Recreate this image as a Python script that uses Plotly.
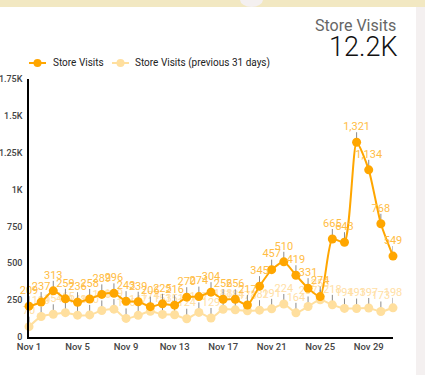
import pandas as pd
import plotly.graph_objects as go

# Daily store visits, Nov 1 - Dec 1, and the matching previous 31-day window
dates = pd.date_range("2023-11-01", periods=31, freq="D")
store_visits = [209, 237, 313, 259, 236, 258, 289, 296, 243, 239, 206, 225, 216, 270,
                274, 304, 256, 256, 217, 345, 457, 510, 419, 331, 274, 665, 643, 1321,
                1134, 768, 549]
previous_visits = [70, 139, 154, 165, 148, 150, 180, 189, 126, 147, 174, 153, 151, 124,
                   167, 129, 188, 184, 178, 182, 191, 224, 164, 207, 253, 218, 194, 193,
                   197, 173, 198]
y_tick_vals = [0, 250, 500, 750, 1000, 1250, 1500, 1750]
y_tick_text = ["0", "250", "500", "750", "1K", "1.25K", "1.5K", "1.75K"]
series_names = ["Store Visits", "Store Visits (previous 31 days)"]
total_label = "12.2K"

MAIN = "#ffa600"
PREV = "#ffdf9e"
MAIN_TXT = "#ffbd45"
PREV_TXT = "#ffe0a6"
LEADER = "#8a8a8a"
FONT = "Roboto"

# geometry (pixels) of the plotting area
W, H = 425, 375
ML, MR, MT, MB = 29, 32, 79, 38
Y_MAX = 1750
pw = W - ML - MR
ph = H - MT - MB
px_per_unit = ph / Y_MAX
lead = 10 / px_per_unit      # leader line length above each point
text_off = 15 / px_per_unit  # label centre above each point


def px_x(x):
    return (x - ML) / pw


def px_y(y):
    return (H - MB - y) / ph


def fmt(v):
    return f"{v:,}"


def series(values, color, txt_color, name):
    lx, ly = [], []
    for d, v in zip(dates, values):
        lx += [d, d, None]
        ly += [v, v + lead, None]
    leaders = go.Scatter(
        x=lx, y=ly, mode="lines", line=dict(color=LEADER, width=1),
        showlegend=False, hoverinfo="skip", cliponaxis=False,
    )
    pts = go.Scatter(
        x=dates, y=values, name=name, mode="lines+markers",
        line=dict(color=color, width=2, shape="spline", smoothing=0.6),
        marker=dict(color=color, size=9),
        showlegend=False, cliponaxis=False, hoverinfo="x+y",
    )
    labels = go.Scatter(
        x=dates, y=[v + text_off for v in values], mode="text",
        text=[fmt(v) for v in values], textposition="middle center",
        textfont=dict(family=FONT, size=11, color=txt_color),
        showlegend=False, hoverinfo="skip", cliponaxis=False,
    )
    return [leaders, pts, labels]


fig = go.Figure()
for tr in series(previous_visits, PREV, PREV_TXT, series_names[1]):
    fig.add_trace(tr)
for tr in series(store_visits, MAIN, MAIN_TXT, series_names[0]):
    fig.add_trace(tr)

# page background: beige band on top, grey strip on the right
fig.add_shape(type="rect", xref="paper", yref="paper", layer="below",
              x0=px_x(0), x1=px_x(W), y0=px_y(7), y1=px_y(0),
              fillcolor="#f2e8c2", line_width=0)
fig.add_shape(type="rect", xref="paper", yref="paper", layer="below",
              x0=px_x(416), x1=px_x(W), y0=px_y(H), y1=px_y(7),
              fillcolor="#f4f0f0", line_width=0)
fig.add_shape(type="circle", xref="paper", yref="paper", layer="below",
              x0=px_x(240), x1=px_x(263), y0=px_y(7), y1=px_y(-8),
              fillcolor="#f4f0f0", line_width=0)

# legend drawn as line + dot + label
legend_items = [(29, 51, MAIN, series_names[0]), (112, 133, PREV, series_names[1])]
LEG_Y = 63
for x0, tx, col, label in legend_items:
    fig.add_shape(type="line", xref="paper", yref="paper",
                  x0=px_x(x0), x1=px_x(x0 + 17), y0=px_y(LEG_Y), y1=px_y(LEG_Y),
                  line=dict(color=col, width=2))
    cx = x0 + 8.5
    fig.add_shape(type="circle", xref="paper", yref="paper",
                  x0=px_x(cx - 4), x1=px_x(cx + 4), y0=px_y(LEG_Y + 4), y1=px_y(LEG_Y - 4),
                  fillcolor=col, line_width=0)
    fig.add_annotation(text=label, xref="paper", yref="paper",
                       x=px_x(tx), y=px_y(LEG_Y), xanchor="left", yanchor="middle",
                       showarrow=False, font=dict(family=FONT, size=10, color="#222222"))

# headline metric
fig.add_annotation(text="Store Visits", xref="paper", yref="paper",
                   x=px_x(398), y=px_y(25), xanchor="right", yanchor="middle",
                   showarrow=False, font=dict(family=FONT, size=16, color="#666666"))
fig.add_annotation(text=total_label, xref="paper", yref="paper",
                   x=px_x(399), y=px_y(47), xanchor="right", yanchor="middle",
                   showarrow=False, font=dict(family=FONT, size=27, color="#111111", weight=300))

fig.update_layout(
    width=W, height=H,
    margin=dict(l=ML, r=MR, t=MT, b=MB, pad=0, autoexpand=False),
    paper_bgcolor="white", plot_bgcolor="white",
    font=dict(family=FONT, color="#333333"),
    showlegend=False,
    hovermode="closest",
)
fig.update_xaxes(
    type="date", range=[dates[0], dates[-1]], automargin=False,
    tick0=dates[0], dtick=4 * 86400000, tickformat="%b %-d",
    showgrid=False, zeroline=False, showline=True, linecolor="#000000", linewidth=1.5,
    ticks="", tickfont=dict(family=FONT, size=9.5, color="#444444", weight=500),
)
fig.update_yaxes(
    range=[0, Y_MAX], tickvals=y_tick_vals, ticktext=y_tick_text, automargin=False,
    showgrid=False, zeroline=False, showline=True, linecolor="#000000", linewidth=1.5,
    ticks="", ticklabelstandoff=3,
    tickfont=dict(family=FONT, size=9, color="#444444", weight=500),
)

fig.write_html("out.html")
